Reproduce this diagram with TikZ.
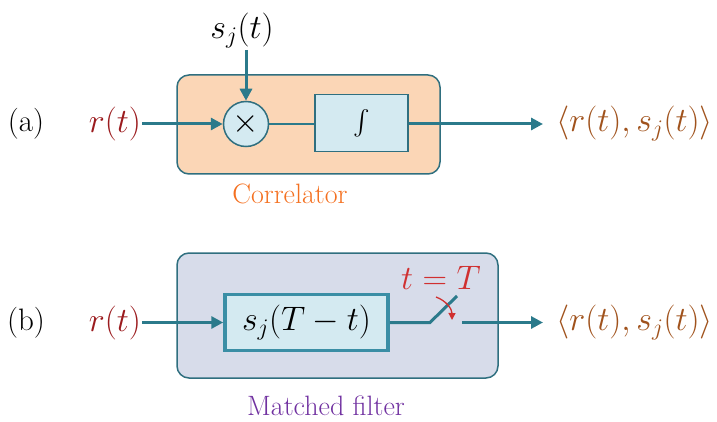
\RequirePackage{fix-cm}
\documentclass[tikz,border=0pt]{standalone}
\usepackage{exscale}
\usepackage[no-math]{fontspec}
\setmainfont{Latin Modern Roman}
\usetikzlibrary{arrows.meta}
\definecolor{teal1}{HTML}{2B7A8B}
\definecolor{border1}{HTML}{2F6F7F}
\definecolor{peach}{HTML}{FBD6B6}
\definecolor{lblue}{HTML}{D4EAF1}
\definecolor{lav}{HTML}{D7DCEA}
\definecolor{fbord}{HTML}{3A8EA5}
\definecolor{tred}{HTML}{D03030}
\definecolor{rred}{HTML}{9B1B1E}
\definecolor{obrown}{HTML}{A0521C}
\definecolor{corange}{HTML}{F47020}
\definecolor{mpurple}{HTML}{7030A0}
\begin{document}
\begin{tikzpicture}[x=1pt,y=-1pt,
  outer/.style={draw=border1,line width=1.5pt,rounded corners=12pt,inner sep=0pt},
  blk/.style={draw=border1,fill=lblue,line width=1.5pt,inner sep=0pt},
  conn/.style={draw=teal1,line width=3pt},
  arr/.style={conn,-{Triangle[length=12pt,width=12pt]}},
  mathlbl/.style={font=\fontsize{34}{38}\selectfont,inner sep=1pt},
  plainlbl/.style={font=\fontsize{31}{35}\selectfont,inner sep=1pt},
  caption/.style={font=\fontsize{28}{32}\selectfont,inner sep=1pt}]
\useasboundingbox (0,0) rectangle (717,422);
% ---------- (a) correlator ----------
\node[outer,fill=peach,minimum width=263pt,minimum height=99pt] (boxA) at (308.5,124.5) {};
\node[blk,circle,minimum size=45pt,font=\fontsize{34}{38}\selectfont] (mult) at (246,124) {$\times$};
\node[blk,minimum width=93pt,minimum height=57pt,font=\fontsize{34}{38}\selectfont] (integ) at (361.5,123) {$\int$};
\node[mathlbl] (sj) at (242,31) {$s_j(t)$};
\node[mathlbl,text=rred] (rA) at (115,124) {$r(t)$};
\node[mathlbl,text=obrown,anchor=west,inner sep=0pt] (outA) at (556,124) {$\langle r(t),s_j(t)\rangle$};
\node[plainlbl] (la) at (26,124) {(a)};
\node[caption,text=corange] (corr) at (290,194) {Correlator};
\draw[arr] (sj.south -| mult) -- (mult.north);
\draw[arr] (rA.east |- mult) -- (mult.west);
\draw[conn,line width=2.5pt] (mult.east) -- (integ.west |- mult);
\draw[arr,shorten >=13pt] (integ.east |- mult) -- (outA.west |- mult);
% ---------- (b) matched filter ----------
\node[outer,fill=lav,minimum width=321pt,minimum height=125pt] (boxB) at (337.5,315.5) {};
\node[draw=fbord,fill=lblue,line width=3.5pt,inner sep=0pt,minimum width=163pt,minimum height=56pt,mathlbl] (filt) at (306.5,322.5) {$s_j(T-t)$};
\node[mathlbl,text=rred] (rB) at (115,322.5) {$r(t)$};
\node[mathlbl,text=obrown,anchor=west,inner sep=0pt] (outB) at (556,322.5) {$\langle r(t),s_j(t)\rangle$};
\node[plainlbl] (lb) at (26,322.5) {(b)};
\node[mathlbl,text=tred] (tT) at (441,278) {$t=T$};
\node[caption,text=mpurple] (mf) at (326,406) {Matched filter};
\coordinate (sw1) at (430,322.5);
\coordinate (sw2) at (457,296);
\coordinate (sw3) at (462,322.5);
\coordinate (ra1) at (436,297);
\coordinate (ra2) at (452,320);
\draw[arr] (rB.east |- filt) -- (filt.west);
\draw[conn] (filt.east) -- (sw1) -- (sw2);
\draw[arr,shorten >=13pt] (sw3) -- (outB.west |- sw3);
\draw[tred,line width=1.3pt,-{Triangle[length=7pt,width=7pt]}] (ra1) to[bend left=35] (ra2);
\end{tikzpicture}
\end{document}
